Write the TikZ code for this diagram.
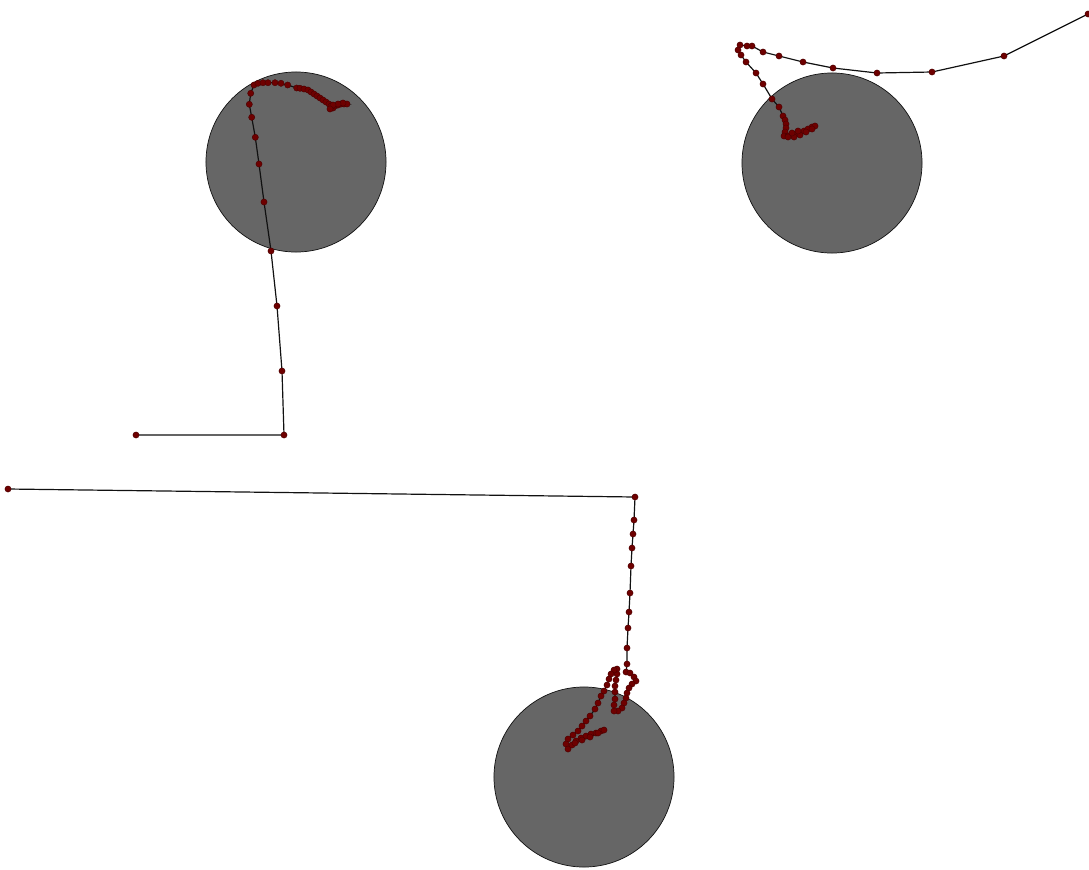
\documentclass[tikz,border=0pt]{standalone}
\usetikzlibrary{plotmarks}
\definecolor{ink}{HTML}{111111}
\definecolor{ball}{HTML}{666666}
\definecolor{blood}{HTML}{6E0000}
\definecolor{rim}{HTML}{4A0000}

\begin{document}
\begin{tikzpicture}[x=0.025cm,y=-0.025cm,
  obstacle/.style={fill=ball,draw=ink,line width=0.5pt},
  track/.style={draw=ink,line width=0.85pt,mark=*,mark size=2.2pt,
    mark options={fill=blood,draw=rim,line width=0.3pt}}]
  \def\rad{2.25cm}
  \useasboundingbox (0,0) rectangle (1089,869);
  % obstacles
  \draw[obstacle] (296,162) circle (\rad);
  \draw[obstacle] (832,163) circle (\rad);
  \draw[obstacle] (584,777) circle (\rad);
  % first run
  \draw[track] plot coordinates {(136,435) (284,435) (282,371) (277,306) (271,251)
    (264,202) (259,164) (255.3,137.3) (251.7,117.3) (249.3,104.3) (250.7,93.3)
    (254,85) (258,83.3) (263,82.7) (268,82.7) (275,82.7) (281,83.3) (287.7,85)
    (296.7,88) (300,88.3) (304,89) (308,90) (311,92) (314,94) (317,96) (320,98)
    (323,100) (326,102) (329,104) (331,106) (333,108) (335,106) (338,105)
    (341,104) (344,104) (347,104) (343,103) (338,104) (333,105) (330,109)};
  % second run
  \draw[track] plot coordinates {(1088,14) (1004,56) (932,72) (877,73) (833,68)
    (803,62) (779,56) (763,52) (752,46) (747,46) (740,45) (738,50) (741,55)
    (746,62) (756,73) (763,84) (772,99) (779,107) (783,116) (785,120) (786,124)
    (786,128) (785,132) (784,136) (788,136) (792,135) (796,134) (800,133)
    (804,131) (808,129) (812,127) (815,126) (812,129) (806,132) (800,135)
    (794,137) (788,137) (792,133) (798,131)};
  % third run
  \draw[track] plot coordinates {(8,489) (635,497) (634,520) (633,534) (632,548)
    (631,566) (630,593) (629,612) (628,628) (627,648) (627,664) (626,672)
    (630,673) (634,677) (636,681) (632,684) (629,688) (627,693) (626,698)
    (624,703) (622,708) (618,711) (614,711) (614,705) (615,699) (615,692)
    (615,686) (616,680) (617,674) (617,669) (614,670) (611,674) (609,679)
    (607,685) (604,691) (601,696) (598,703) (595,709) (590,716) (586,721)
    (582,726) (578,731) (573,735) (568,739) (566,744) (568,749) (572,745)
    (576,741) (581,738) (586,736) (591,734) (596,733) (601,731) (604,730)
    (598,733) (590,737) (582,740) (575,743)};
\end{tikzpicture}
\end{document}
